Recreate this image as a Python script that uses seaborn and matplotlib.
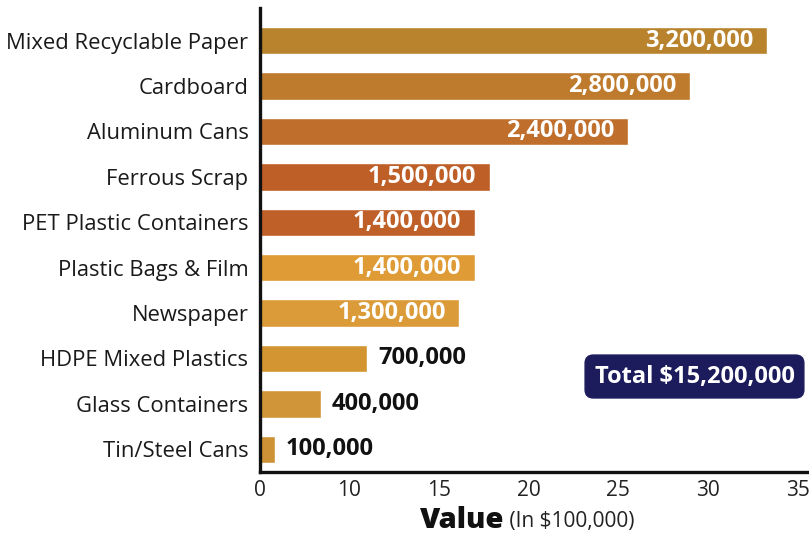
import numpy as np
import pandas as pd
import matplotlib
matplotlib.use("Agg")
import matplotlib.pyplot as plt
import seaborn as sns

categories = ["Mixed Recyclable Paper", "Cardboard", "Aluminum Cans", "Ferrous Scrap",
              "PET Plastic Containers", "Plastic Bags & Film", "Newspaper",
              "HDPE Mixed Plastics", "Glass Containers", "Tin/Steel Cans"]
values = [33, 28, 24, 15, 14, 14, 13, 7, 4, 1]
value_labels = ["3,200,000", "2,800,000", "2,400,000", "1,500,000", "1,400,000",
                "1,400,000", "1,300,000", "700,000", "400,000", "100,000"]
colors = ["#B9832D", "#BF7B2D", "#C06E2C", "#BF5F28", "#C06029",
          "#DF9B36", "#DB9B38", "#D29532", "#CF9538", "#CE9236"]
tick_labels = ["0", "10", "15", "20", "25", "30", "35"]
total_text = "Total $15,200,000"

sns.set_theme(style="white")
plt.rcParams["font.family"] = ["Open Sans", "DejaVu Sans"]

df = pd.DataFrame({"category": categories, "value": values})

fig = plt.figure(figsize=(8.09, 5.35), dpi=100)
ax = fig.add_axes([259.5 / 809, 1 - 472 / 535, 1 - 259.5 / 809, (472 - 8) / 535])

sns.barplot(data=df, x="value", y="category", hue="category", palette=colors,
            legend=False, width=0.6, orient="h", ax=ax, saturation=1)

ax.set_xlim(0, 35.74)
ax.set_ylim(9.5, -0.72)

for s in ["top", "right"]:
    ax.spines[s].set_visible(False)
for s in ["left", "bottom"]:
    ax.spines[s].set_linewidth(2.4)
    ax.spines[s].set_color("#111111")

ax.set_xticks(np.linspace(0, 35, len(tick_labels)))
ax.set_xticklabels(tick_labels, fontsize=15, color="#222222")
ax.tick_params(axis="x", direction="inout", length=8, width=2, color="#111111", pad=2)

ax.set_yticks(range(len(categories)))
ax.set_yticklabels(categories, fontsize=15.8, color="#1a1a1a")
ax.tick_params(axis="y", length=0, pad=8)
ax.set_yticks(np.arange(len(categories)) - 0.5, minor=True)
ax.tick_params(axis="y", which="minor", direction="out", length=5, width=2, color="#111111")

ax.set_xlabel("")
ax.set_ylabel("")

for i, (v, lab) in enumerate(zip(values, value_labels)):
    if v >= 10:
        ax.annotate(lab, (v, i), xytext=(-10, 0), textcoords="offset points",
                    ha="right", va="center", color="white", fontsize=17, fontweight="bold")
    else:
        ax.annotate(lab, (v, i), xytext=(8, 0), textcoords="offset points",
                    ha="left", va="center", color="#111111", fontsize=17, fontweight="bold")

vt = fig.text(420 / 809, 1 - 520 / 535, "Value", fontsize=21, fontweight="heavy",
              ha="left", va="center", color="#111111")
ax.annotate(" (In $100,000)", xy=(1, 0.45), xycoords=vt, ha="left", va="center",
            fontsize=15, color="#222222")

ax.text(0.7916, 0.2058, total_text, transform=ax.transAxes, ha="center", va="center",
        fontsize=17, fontweight="bold", color="white",
        bbox=dict(boxstyle="round,pad=0.4,rounding_size=0.35", facecolor="#1C1B5C",
                  edgecolor="#1C1B5C"))

fig.savefig("out.png", dpi=100)
